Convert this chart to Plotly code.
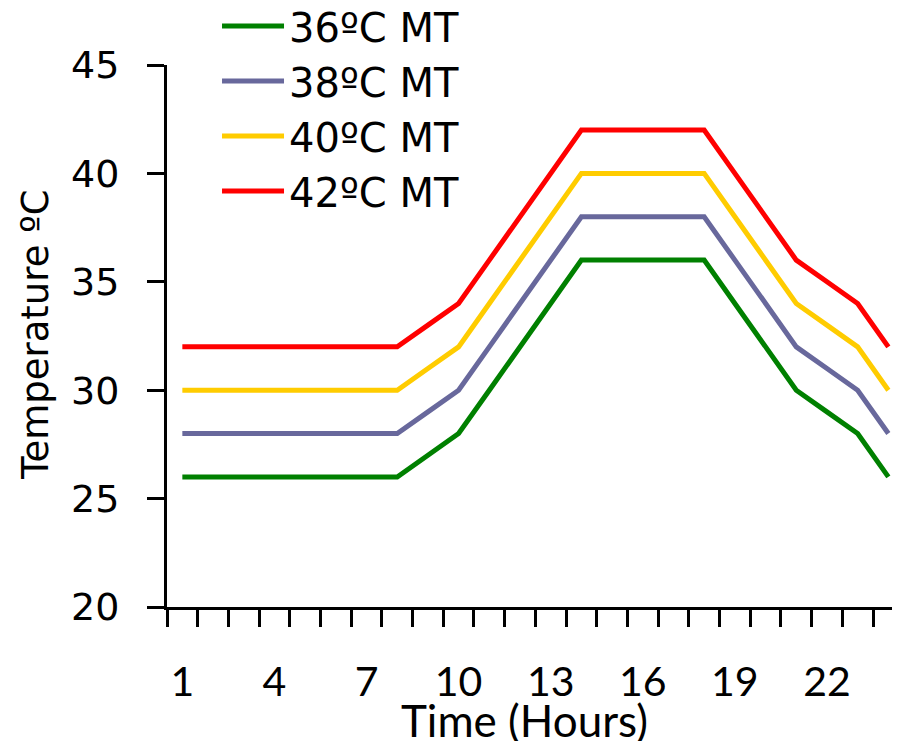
import plotly.graph_objects as go

hours = list(range(1, 25))
series_names = ["36ºC MT", "38ºC MT", "40ºC MT", "42ºC MT"]
t36 = [26, 26, 26, 26, 26, 26, 26, 26, 27, 28, 30, 32, 34, 36, 36, 36, 36, 36, 34, 32, 30, 29, 28, 26]
t38 = [28, 28, 28, 28, 28, 28, 28, 28, 29, 30, 32, 34, 36, 38, 38, 38, 38, 38, 36, 34, 32, 31, 30, 28]
t40 = [30, 30, 30, 30, 30, 30, 30, 30, 31, 32, 34, 36, 38, 40, 40, 40, 40, 40, 38, 36, 34, 33, 32, 30]
t42 = [32, 32, 32, 32, 32, 32, 32, 32, 33, 34, 36, 38, 40, 42, 42, 42, 42, 42, 40, 38, 36, 35, 34, 32]
colors = ["#008000", "#68689C", "#FFCC00", "#FF0000"]
x_tick_vals = [1, 4, 7, 10, 13, 16, 19, 22]
y_tick_vals = [20, 25, 30, 35, 40, 45]

fig = go.Figure()
for name, ys, c in zip(series_names, [t36, t38, t40, t42], colors):
    fig.add_trace(go.Scatter(x=hours, y=ys, name=name, mode="lines",
                             line=dict(color=c, width=5)))

fig.update_layout(
    width=900, height=741,
    margin=dict(l=159, r=0, t=57, b=142, autoexpand=False),
    paper_bgcolor="white", plot_bgcolor="white",
    showlegend=True,
    legend=dict(x=0.0675, y=1.132, xanchor="left", yanchor="top", itemwidth=62,
                font=dict(family="DejaVu Sans", size=40, color="black"),
                bgcolor="rgba(0,0,0,0)", tracegroupgap=0),
    xaxis=dict(
        range=[0.5, 24.64], tickmode="array", tickvals=x_tick_vals,
        ticks="outside", ticklen=17, tickcolor="rgba(0,0,0,0)",
        ticklabelstandoff=20, automargin=False,
        tickfont=dict(family="Lato", size=41, color="black"),
        showline=True, linecolor="black", linewidth=3, showgrid=False, zeroline=False,
        minor=dict(tickmode="linear", tick0=0.5, dtick=1, ticks="outside",
                   ticklen=17, tickwidth=3, tickcolor="black", showgrid=False),
    ),
    yaxis=dict(
        range=[20, 45], tickmode="array", tickvals=y_tick_vals,
        ticks="outside", ticklen=17, tickwidth=3, tickcolor="black",
        ticklabelstandoff=20, automargin=False,
        tickfont=dict(family="DejaVu Sans", size=38, color="black"),
        showline=True, linecolor="black", linewidth=3, showgrid=False, zeroline=False,
    ),
    annotations=[
        dict(text="Time (Hours)", xref="paper", yref="paper", x=0.483, y=-0.209,
             xanchor="center", yanchor="middle", showarrow=False,
             font=dict(family="Lato", size=44, color="black")),
        dict(text="Temperature ºC", xref="paper", yref="paper", x=-0.1768, y=0.502,
             xanchor="center", yanchor="middle", showarrow=False, textangle=-90,
             font=dict(family="DejaVu Sans", size=37, color="black")),
    ],
)

fig.write_html("out.html")
